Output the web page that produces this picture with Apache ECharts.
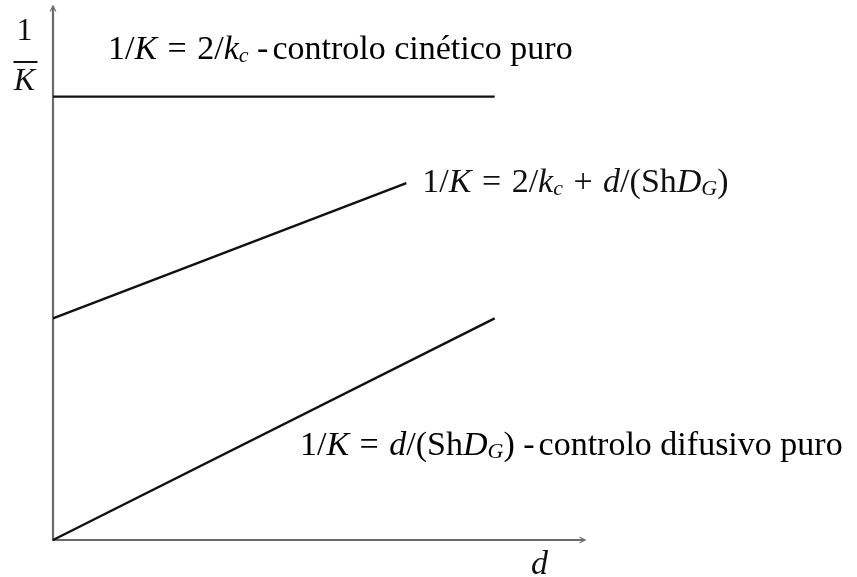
<!DOCTYPE html>
<html>
<head>
<meta charset="utf-8">
<script src="https://cdn.jsdelivr.net/npm/echarts@6/dist/echarts.min.js"></script>
<style>
  html, body { margin: 0; padding: 0; background: #fff; }
  #chart { width: 857px; height: 577px; }
</style>
</head>
<body>
<div id="chart"></div>
<script>
// Particle diameter d (arbitrary units)
const dValues = [0, 1];
// 1/K under pure kinetic control: constant 2/kc
const kineticOnly = [2, 2];
// 1/K under pure diffusive control: d/(Sh D_G)
const diffusiveOnly = [0, 1];
// Mixed regime: 2/kc + d/(Sh D_G)
const combinedD = [0, 0.8];
const combined = [1, 1.61];

const FONT = '"Liberation Serif", "DejaVu Serif", serif';
const FS = 34;
const C = '#111';
// Rich-text styles: upright, italic variable, subscript, relation/operator with math spacing, words
const rich = {
  n: { fontFamily: FONT, fontSize: FS, color: C },
  i: { fontFamily: FONT, fontSize: FS, fontStyle: 'italic', color: C },
  s: { fontFamily: FONT, fontSize: 22, fontStyle: 'italic', color: C, padding: [13, 0, 0, 0] },
  op: { fontFamily: FONT, fontSize: FS, color: C, padding: [0, 2, 0, 2] },
  w: { fontFamily: FONT, fontSize: FS, color: C, padding: [0, 0, 0, 4] }
};

const chart = echarts.init(document.getElementById('chart'), null, { renderer: 'canvas' });

const pair = (xs, ys) => xs.map((x, k) => [x, ys[k]]);
const chevron = 'path://M0,10 L5,0 L10,10 L8.2,10 L5,3.6 L1.8,10 Z';

const axisLine = {
  show: true,
  symbol: ['none', chevron],
  symbolSize: [11, 7],
  lineStyle: { color: '#6a6a6a', width: 2.2 }
};

chart.setOption({
  animation: false,
  grid: { left: 53, top: 8, right: 274, bottom: 37, containLabel: false },
  xAxis: {
    type: 'value', min: 0, max: 1.2,
    axisLine: axisLine,
    axisTick: { show: false }, axisLabel: { show: false }, splitLine: { show: false }
  },
  yAxis: {
    type: 'value', min: 0, max: 2.4,
    axisLine: axisLine,
    axisTick: { show: false }, axisLabel: { show: false }, splitLine: { show: false }
  },
  series: [
    {
      type: 'line', data: pair(dValues, kineticOnly), symbol: 'none',
      lineStyle: { color: C, width: 2.4 }
    },
    {
      type: 'line', data: pair(combinedD, combined), symbol: 'none',
      lineStyle: { color: C, width: 2.4 },
      endLabel: {
        show: true, distance: 16,
        formatter: '{n|1/}{i|K}{op| = }{n|2/}{i|k}{s|c}{op| + }{i|d}{n|/(Sh}{i|D}{s|G}{n|)}',
        rich: rich
      }
    },
    {
      type: 'line', data: pair(dValues, diffusiveOnly), symbol: 'none',
      lineStyle: { color: C, width: 2.4 }
    }
  ],
  graphic: [
    {
      type: 'text', left: 108, top: 33,
      style: {
        text: '{n|1/}{i|K}{op| = }{n|2/}{i|k}{s|c}{n| -}{w|controlo cinético puro}',
        rich: rich
      }
    },
    {
      type: 'text', left: 300, top: 429,
      style: {
        text: '{n|1/}{i|K}{op| = }{i|d}{n|/(Sh}{i|D}{s|G}{n|) -}{w|controlo difusivo puro}',
        rich: rich
      }
    },
    {
      type: 'text', left: 531, top: 548,
      style: { text: 'd', font: 'italic 34px ' + FONT, fill: C }
    },
    {
      type: 'group', left: 11, top: 16,
      children: [
        { type: 'text', style: { text: '1', font: '32px ' + FONT, fill: C, x: 13, y: 0, align: 'center' } },
        { type: 'line', shape: { x1: 2, y1: 46, x2: 26, y2: 46 }, style: { stroke: C, lineWidth: 2 } },
        { type: 'text', style: { text: 'K', font: 'italic 32px ' + FONT, fill: C, x: 13, y: 50, align: 'center' } }
      ]
    }
  ]
});
</script>
</body>
</html>
